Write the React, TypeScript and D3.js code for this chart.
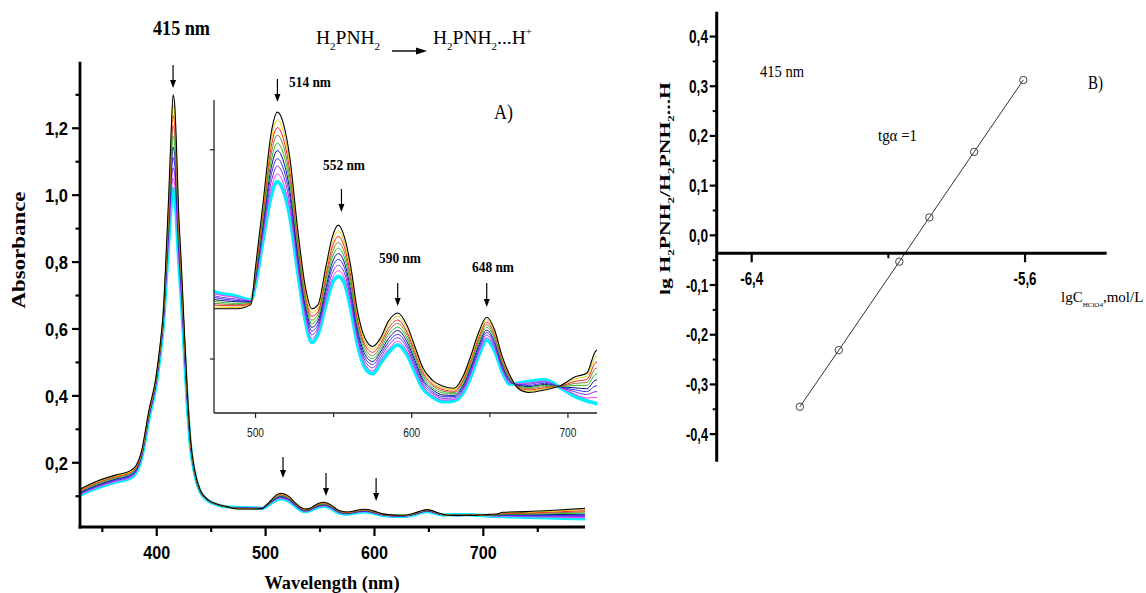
import React from 'react';
import * as d3 from 'd3';

// Wavelength grid (nm) shared by all absorption spectra
const WAVELENGTHS = [
  327, 345, 362, 375, 381, 386, 393, 399, 403, 406,
  409, 411, 413, 415, 416.5, 418, 420, 422.5, 425, 428,
  431, 435, 440, 447, 455, 464, 474, 488, 497, 500,
  505, 510, 514, 518, 522, 527, 532, 536, 540, 545,
  549, 553, 557, 561, 565, 570, 575, 580, 585, 591,
  597, 602, 607, 613, 620, 627, 633, 638, 643, 648,
  653, 658, 663, 668, 675, 685, 695, 705, 712, 718,
  740, 765, 795,
];

// Absorbance of the titration spectra, first (no acid) to last
const ABS_1 = [
  .1170, .1450, .1630, .1750, .1920, .2350, .3600, .4500, .5500, .6500,
  .850, 1.000, 1.170, 1.300, 1.270, 1.160, .960, .800, .620, .420,
  .270, .175, .118, .090, .077, .069, .0620, .0620, .0630, .0720,
  .0880, .1040, .1090, .1060, .0980, .0810, .0670, .0620, .0630, .0720,
  .0790, .0820, .0790, .0720, .0620, .0550, .0530, .0550, .0590, .0610,
  .0580, .0530, .0480, .0450, .0435, .0430, .0460, .0510, .0565, .0600,
  .0570, .0505, .0460, .0430, .0420, .0426, .0436, .0458, .0466, .0520,
  .0540, .0580, .0640,
];
const ABS_2 = [
  .1151, .1427, .1607, .1726, .1896, .2326, .3572, .4472, .5467, .6456,
  .840, .984, 1.147, 1.269, 1.240, 1.134, .943, .788, .612, .416,
  .268, .174, .1174, .0897, .0768, .0689, .0624, .0623, .0631, .0716,
  .0870, .1023, .1072, .1042, .0964, .0799, .0661, .0611, .0622, .0710,
  .0778, .0806, .0778, .0709, .0611, .0542, .0523, .0543, .0582, .0602,
  .0572, .0523, .0474, .0446, .0431, .0427, .0456, .0504, .0559, .0594,
  .0564, .0501, .0458, .0431, .0423, .0429, .0436, .0453, .0459, .0506,
  .0521, .0554, .0604,
];
const ABS_3 = [
  .1132, .1403, .1583, .1701, .1871, .2301, .3544, .4444, .5433, .6411,
  .830, .969, 1.123, 1.238, 1.210, 1.109, .927, .776, .604, .411,
  .266, .173, .1169, .0893, .0766, .0688, .0629, .0627, .0632, .0711,
  .0860, .1007, .1053, .1024, .0949, .0788, .0652, .0602, .0614, .0700,
  .0766, .0793, .0766, .0698, .0602, .0534, .0516, .0537, .0573, .0593,
  .0564, .0517, .0469, .0441, .0427, .0423, .0451, .0499, .0553, .0588,
  .0559, .0497, .0456, .0433, .0426, .0431, .0435, .0447, .0451, .0492,
  .0502, .0529, .0569,
];
const ABS_4 = [
  .1113, .1380, .1560, .1677, .1847, .2277, .3517, .4417, .5400, .6367,
  .820, .953, 1.100, 1.207, 1.180, 1.083, .910, .763, .597, .407,
  .263, .172, .1163, .0890, .0763, .0687, .0633, .0630, .0633, .0707,
  .0850, .0990, .1035, .1007, .0933, .0777, .0643, .0593, .0607, .0690,
  .0753, .0779, .0753, .0687, .0593, .0527, .0508, .0530, .0565, .0585,
  .0557, .0510, .0463, .0437, .0423, .0420, .0447, .0493, .0547, .0582,
  .0553, .0493, .0453, .0434, .0429, .0434, .0435, .0442, .0444, .0478,
  .0483, .0503, .0533,
];
const ABS_5 = [
  .1094, .1357, .1537, .1652, .1822, .2252, .3489, .4389, .5367, .6322,
  .810, .938, 1.077, 1.176, 1.150, 1.058, .893, .751, .589, .402,
  .261, .171, .1158, .0887, .0761, .0686, .0638, .0633, .0634, .0702,
  .0840, .0973, .1016, .0989, .0918, .0766, .0634, .0584, .0599, .0680,
  .0741, .0765, .0741, .0676, .0584, .0519, .0501, .0523, .0557, .0576,
  .0549, .0503, .0458, .0432, .0419, .0417, .0442, .0488, .0541, .0576,
  .0548, .0489, .0451, .0435, .0432, .0437, .0434, .0437, .0437, .0464,
  .0464, .0478, .0498,
];
const ABS_6 = [
  .1076, .1333, .1513, .1628, .1798, .2228, .3461, .4361, .5333, .6278,
  .800, .922, 1.053, 1.144, 1.120, 1.032, .877, .739, .581, .398,
  .259, .169, .1152, .0883, .0759, .0684, .0642, .0637, .0636, .0698,
  .0830, .0957, .0998, .0971, .0902, .0754, .0626, .0576, .0591, .0670,
  .0729, .0752, .0729, .0664, .0576, .0511, .0494, .0517, .0548, .0568,
  .0541, .0497, .0452, .0428, .0414, .0413, .0438, .0482, .0534, .0569,
  .0542, .0486, .0449, .0437, .0434, .0439, .0434, .0431, .0429, .0450,
  .0446, .0452, .0462,
];
const ABS_7 = [
  .1057, .1310, .1490, .1603, .1773, .2203, .3433, .4333, .5300, .6233,
  .790, .907, 1.030, 1.113, 1.090, 1.007, .860, .727, .573, .393,
  .257, .168, .1147, .0880, .0757, .0683, .0647, .0640, .0637, .0693,
  .0820, .0940, .0979, .0953, .0887, .0743, .0617, .0567, .0583, .0660,
  .0717, .0738, .0717, .0653, .0567, .0503, .0487, .0510, .0540, .0559,
  .0533, .0490, .0447, .0423, .0410, .0410, .0433, .0477, .0528, .0563,
  .0537, .0482, .0447, .0438, .0437, .0442, .0433, .0426, .0422, .0436,
  .0427, .0427, .0427,
];
const ABS_8 = [
  .1038, .1287, .1467, .1579, .1749, .2179, .3406, .4306, .5267, .6189,
  .780, .891, 1.007, 1.082, 1.060, .981, .843, .714, .566, .389,
  .254, .167, .1141, .0877, .0754, .0682, .0651, .0643, .0638, .0689,
  .0810, .0923, .0961, .0936, .0871, .0732, .0608, .0558, .0576, .0650,
  .0704, .0724, .0704, .0642, .0558, .0496, .0479, .0503, .0532, .0551,
  .0526, .0483, .0441, .0419, .0406, .0407, .0429, .0471, .0522, .0557,
  .0531, .0478, .0444, .0439, .0440, .0445, .0433, .0421, .0415, .0422,
  .0408, .0401, .0391,
];
const ABS_9 = [
  .1019, .1263, .1443, .1554, .1724, .2154, .3378, .4278, .5233, .6144,
  .770, .876, .983, 1.051, 1.030, .956, .827, .702, .558, .384,
  .252, .166, .1136, .0873, .0752, .0681, .0656, .0647, .0639, .0684,
  .0800, .0907, .0942, .0918, .0856, .0721, .0599, .0549, .0568, .0640,
  .0692, .0711, .0692, .0631, .0549, .0488, .0472, .0497, .0523, .0542,
  .0518, .0477, .0436, .0414, .0402, .0403, .0424, .0466, .0516, .0551,
  .0526, .0474, .0442, .0441, .0443, .0447, .0432, .0415, .0407, .0408,
  .0389, .0376, .0356,
];
const ABS_10 = [
  .1000, .1240, .1420, .1530, .1700, .2130, .3350, .4250, .5200, .6100,
  .760, .860, .960, 1.020, 1.000, .930, .810, .690, .550, .380,
  .250, .165, .113, .087, .075, .068, .0660, .0650, .0640, .0680,
  .0790, .0890, .0924, .0900, .0840, .0710, .0590, .0540, .0560, .0630,
  .0680, .0697, .0680, .0620, .0540, .0480, .0465, .0490, .0515, .0534,
  .0510, .0470, .0430, .0410, .0398, .0400, .0420, .0460, .0510, .0545,
  .0520, .0470, .0440, .0442, .0446, .0450, .0432, .0410, .0400, .0394,
  .0370, .0350, .0320,
];

const SPECTRA = [ABS_1, ABS_2, ABS_3, ABS_4, ABS_5, ABS_6, ABS_7, ABS_8, ABS_9, ABS_10];
const SPECTRUM_COLORS = [
  '#000000', '#e6d300', '#ff1a1a', '#8c7a3c', '#22c322',
  '#0a0a80', '#2e2eff', '#8a2be2', '#ff3cff', '#00efff',
];

// Tick values
const MAIN_Y_MAJOR = [0.2, 0.4, 0.6, 0.8, 1.0, 1.2];
const MAIN_Y_MINOR = [0.1, 0.3, 0.5, 0.7, 0.9, 1.1, 1.3];
const MAIN_X_MAJOR = [400, 500, 600, 700];
const MAIN_X_MINOR = [350, 450, 550, 650, 750];
const INSET_X_MAJOR = [500, 600, 700];
const INSET_X_MINOR = [550, 650];
const INSET_Y_TICKS = [0.05, 0.1];

// Peak markers (nm)
const MAIN_ARROWS = [415, 516, 555.5, 601.5];
const INSET_PEAKS = [
  { label: '514 nm', arrow: 514 },
  { label: '552 nm', arrow: 555 },
  { label: '590 nm', arrow: 591 },
  { label: '648 nm', arrow: 648 },
];

// Panel B: lg(H2PNH2 / H2PNH2...H) versus lg C(HClO4)
const LG_C_HCLO4 = [-6.259, -6.145, -5.968, -5.880, -5.749, -5.605];
const LG_RATIO = [-0.345, -0.231, -0.053, 0.036, 0.168, 0.3125];
const B_Y_MAJOR = [-0.4, -0.3, -0.2, -0.1, 0.0, 0.1, 0.2, 0.3, 0.4];
const B_Y_MINOR = [-0.35, -0.25, -0.15, -0.05, 0.05, 0.15, 0.25, 0.35];
const B_X_MAJOR = [-6.4, -5.6];
const B_X_MINOR = [-6.0];
const B_AXIS_CROSS = -0.036;

const SERIF = "'Liberation Serif', 'Times New Roman', serif";
const SANS = "'Liberation Sans Narrow', 'Liberation Sans', Arial, sans-serif";

const fmt = (v: number) => v.toFixed(1).replace('.', ',');

type Box = { left: number; right: number; top: number; bottom: number };
const MAIN: Box = { left: 80, right: 585, top: 61.7, bottom: 527 };
const INSET: Box = { left: 214, right: 597, top: 100, bottom: 413 };
const PB: Box = { left: 716.7, right: 1106.7, top: 11.7, bottom: 461.7 };

function Arrow({ x, y1, y2, w = 1.2 }: { x: number; y1: number; y2: number; w?: number }) {
  return (
    <g>
      <line x1={x} x2={x} y1={y1} y2={y2 - 6} stroke="#000" strokeWidth={w} />
      <polygon points={`${x - 3},${y2 - 8} ${x + 3},${y2 - 8} ${x},${y2}`} fill="#000" />
    </g>
  );
}

export default function App() {
  const xMain = d3.scaleLinear().domain([329.5, 793.4]).range([MAIN.left, MAIN.right]);
  const yMain = d3.scaleLinear().domain([0.008, 1.399]).range([MAIN.bottom, MAIN.top]);
  const xIn = d3.scaleLinear().domain([473.4, 718.6]).range([INSET.left, INSET.right]);
  const yIn = d3.scaleLinear().domain([0.0371, 0.1119]).range([INSET.bottom, INSET.top]);
  const xB = d3.scaleLinear().domain([-6.5024, -5.361]).range([PB.left, PB.right]);
  const yB = d3.scaleLinear().domain([-0.4555, 0.45]).range([PB.bottom, PB.top]);

  const mainLine = d3
    .line<number>()
    .x((_, i) => xMain(WAVELENGTHS[i]))
    .y((d) => yMain(d))
    .curve(d3.curveMonotoneX);
  const insetLine = d3
    .line<number>()
    .x((_, i) => xIn(WAVELENGTHS[i]))
    .y((d) => yIn(d))
    .curve(d3.curveMonotoneX)
    .defined((_, i) => WAVELENGTHS[i] >= 464 && WAVELENGTHS[i] <= 740);
  const bLine = d3
    .line<number>()
    .x((_, i) => xB(LG_C_HCLO4[i]))
    .y((d) => yB(d));

  const order = SPECTRA.map((_, i) => i).reverse();
  const widthOf = (i: number, thick: number) => (i === SPECTRA.length - 1 ? thick : i === 0 ? 1.1 : 1);

  const yAxisB = yB(B_AXIS_CROSS);

  return (
    <svg
      width={1146}
      height={593}
      viewBox="0 0 1146 593"
      style={{ position: 'absolute', left: 0, top: 0, background: '#fff' }}
    >
      <defs>
        <clipPath id="clip-main">
          <rect x={MAIN.left} y={MAIN.top} width={MAIN.right - MAIN.left} height={MAIN.bottom - MAIN.top} />
        </clipPath>
        <clipPath id="clip-inset">
          <rect x={INSET.left} y={INSET.top} width={INSET.right - INSET.left} height={INSET.bottom - INSET.top} />
        </clipPath>
      </defs>
      <rect x={0} y={0} width={1146} height={593} fill="#fff" />

      {/* ===== Panel A: full spectra ===== */}
      <g clipPath="url(#clip-main)">
        {order.map((i) => (
          <path
            key={`m${i}`}
            d={mainLine(SPECTRA[i]) || ''}
            fill="none"
            stroke={SPECTRUM_COLORS[i]}
            strokeWidth={widthOf(i, 3.4)}
            strokeLinejoin="round"
          />
        ))}
      </g>

      {/* axes */}
      <line x1={MAIN.left} x2={MAIN.left} y1={MAIN.top} y2={MAIN.bottom + 1.4} stroke="#000" strokeWidth={2.8} />
      <line x1={MAIN.left - 1.4} x2={MAIN.right} y1={MAIN.bottom} y2={MAIN.bottom} stroke="#000" strokeWidth={2.8} />
      {MAIN_Y_MAJOR.map((v) => (
        <g key={`ym${v}`}>
          <line x1={MAIN.left - 8} x2={MAIN.left} y1={yMain(v)} y2={yMain(v)} stroke="#000" strokeWidth={2.2} />
          <text
            x={68}
            y={yMain(v) + 7}
            textAnchor="end"
            fontFamily={SANS}
            fontWeight="bold"
            fontSize={19}
            textLength={23}
            lengthAdjust="spacingAndGlyphs"
          >
            {fmt(v)}
          </text>
        </g>
      ))}
      {MAIN_Y_MINOR.map((v) => (
        <line key={`yn${v}`} x1={MAIN.left - 4.5} x2={MAIN.left} y1={yMain(v)} y2={yMain(v)} stroke="#000" strokeWidth={2.2} />
      ))}
      {MAIN_X_MAJOR.map((v) => (
        <g key={`xm${v}`}>
          <line x1={xMain(v)} x2={xMain(v)} y1={MAIN.bottom} y2={MAIN.bottom + 9} stroke="#000" strokeWidth={2.2} />
          <text
            x={xMain(v)}
            y={559}
            textAnchor="middle"
            fontFamily={SANS}
            fontWeight="bold"
            fontSize={19}
            textLength={27}
            lengthAdjust="spacingAndGlyphs"
          >
            {v}
          </text>
        </g>
      ))}
      {MAIN_X_MINOR.map((v) => (
        <line key={`xn${v}`} x1={xMain(v)} x2={xMain(v)} y1={MAIN.bottom} y2={MAIN.bottom + 5} stroke="#000" strokeWidth={2.2} />
      ))}

      <text
        transform="translate(25,250) rotate(-90)"
        textAnchor="middle"
        fontFamily={SERIF}
        fontWeight="bold"
        fontSize={18}
        textLength={117}
        lengthAdjust="spacingAndGlyphs"
      >
        Absorbance
      </text>
      <text
        x={332}
        y={589}
        textAnchor="middle"
        fontFamily={SERIF}
        fontWeight="bold"
        fontSize={19}
        textLength={135}
        lengthAdjust="spacingAndGlyphs"
      >
        Wavelength (nm)
      </text>
      <text x={153} y={35} fontFamily={SERIF} fontWeight="bold" fontSize={20} textLength={57} lengthAdjust="spacingAndGlyphs">
        415 nm
      </text>

      {/* reaction scheme */}
      <text x={316} y={44} fontFamily={SERIF} fontSize={19.5}>
        H<tspan dy={6} fontSize={11}>2</tspan>
        <tspan dy={-6}>PNH</tspan>
        <tspan dy={6} fontSize={11}>2</tspan>
      </text>
      <line x1={392} x2={418} y1={51} y2={51} stroke="#000" strokeWidth={1.4} />
      <polygon points="416,47.5 427,51 416,54.5" fill="#000" />
      <text x={433} y={44} fontFamily={SERIF} fontSize={19.5}>
        H<tspan dy={6} fontSize={11}>2</tspan>
        <tspan dy={-6}>PNH</tspan>
        <tspan dy={6} fontSize={11}>2</tspan>
        <tspan dy={-6}>...H</tspan>
        <tspan dy={-9} fontSize={11}>+</tspan>
      </text>

      {/* peak arrows on the full spectra */}
      <Arrow x={xMain(MAIN_ARROWS[0])} y1={65} y2={88} />
      <Arrow x={xMain(MAIN_ARROWS[1])} y1={457} y2={478} />
      <Arrow x={xMain(MAIN_ARROWS[2])} y1={473} y2={496} />
      <Arrow x={xMain(MAIN_ARROWS[3])} y1={478} y2={501} />

      {/* ===== Inset: visible Q-bands ===== */}
      <g clipPath="url(#clip-inset)">
        {order.map((i) => (
          <path
            key={`i${i}`}
            d={insetLine(SPECTRA[i]) || ''}
            fill="none"
            stroke={SPECTRUM_COLORS[i]}
            strokeWidth={widthOf(i, 3.8)}
            strokeLinejoin="round"
          />
        ))}
      </g>
      <line x1={INSET.left} x2={INSET.left} y1={INSET.top} y2={INSET.bottom} stroke="#222" strokeWidth={1.3} />
      <line x1={INSET.left} x2={INSET.right} y1={INSET.bottom} y2={INSET.bottom} stroke="#222" strokeWidth={1.3} />
      {INSET_Y_TICKS.map((v) => (
        <line key={`iy${v}`} x1={INSET.left - 4} x2={INSET.left} y1={yIn(v)} y2={yIn(v)} stroke="#222" strokeWidth={1.2} />
      ))}
      {INSET_X_MAJOR.map((v) => (
        <g key={`ix${v}`}>
          <line x1={xIn(v)} x2={xIn(v)} y1={INSET.bottom} y2={INSET.bottom + 5} stroke="#222" strokeWidth={1.2} />
          <text
            x={xIn(v)}
            y={437}
            textAnchor="middle"
            fontFamily={SANS}
            fontSize={13}
            fill="#222"
            textLength={17}
            lengthAdjust="spacingAndGlyphs"
          >
            {v}
          </text>
        </g>
      ))}
      {INSET_X_MINOR.map((v) => (
        <line key={`ixn${v}`} x1={xIn(v)} x2={xIn(v)} y1={INSET.bottom} y2={INSET.bottom + 4} stroke="#222" strokeWidth={1.2} />
      ))}

      {/* inset peak labels */}
      {[
        { x: 289, y: 87, a1: 79, a2: 102 },
        { x: 323, y: 170, a1: 189, a2: 212 },
        { x: 379, y: 263, a1: 283, a2: 306 },
        { x: 472, y: 272, a1: 283, a2: 307 },
      ].map((p, k) => (
        <g key={`pk${k}`}>
          <text x={p.x} y={p.y} fontFamily={SERIF} fontWeight="bold" fontSize={14} textLength={42} lengthAdjust="spacingAndGlyphs">
            {INSET_PEAKS[k].label}
          </text>
          <Arrow x={xIn(INSET_PEAKS[k].arrow)} y1={p.a1} y2={p.a2} />
        </g>
      ))}
      <text x={494} y={119} fontFamily={SERIF} fontSize={20} textLength={19} lengthAdjust="spacingAndGlyphs">
        A)
      </text>

      {/* ===== Panel B ===== */}
      <path d={bLine(LG_RATIO) || ''} fill="none" stroke="#333" strokeWidth={1} />
      {LG_RATIO.map((v, i) => (
        <circle key={`bc${i}`} cx={xB(LG_C_HCLO4[i])} cy={yB(v)} r={3.7} fill="none" stroke="#444" strokeWidth={1} />
      ))}
      <line x1={PB.left} x2={PB.left} y1={PB.top} y2={PB.bottom} stroke="#000" strokeWidth={3} />
      <line x1={PB.left} x2={PB.right} y1={yAxisB} y2={yAxisB} stroke="#000" strokeWidth={3} />
      {B_Y_MAJOR.map((v) => (
        <g key={`by${v}`}>
          <line x1={PB.left - 7} x2={PB.left} y1={yB(v)} y2={yB(v)} stroke="#000" strokeWidth={2.2} />
          <text
            x={708}
            y={yB(v) + 6.5}
            textAnchor="end"
            fontFamily={SANS}
            fontWeight="bold"
            fontSize={18}
            textLength={v < 0 ? 22 : 19}
            lengthAdjust="spacingAndGlyphs"
          >
            {fmt(v)}
          </text>
        </g>
      ))}
      {B_Y_MINOR.map((v) => (
        <line key={`byn${v}`} x1={PB.left - 4} x2={PB.left} y1={yB(v)} y2={yB(v)} stroke="#000" strokeWidth={2} />
      ))}
      {B_X_MAJOR.map((v) => (
        <g key={`bx${v}`}>
          <line x1={xB(v)} x2={xB(v)} y1={yAxisB} y2={yAxisB + 9} stroke="#000" strokeWidth={2.2} />
          <text
            x={xB(v)}
            y={285}
            textAnchor="middle"
            fontFamily={SANS}
            fontWeight="bold"
            fontSize={18}
            textLength={23}
            lengthAdjust="spacingAndGlyphs"
          >
            {fmt(v)}
          </text>
        </g>
      ))}
      {B_X_MINOR.map((v) => (
        <line key={`bxn${v}`} x1={xB(v)} x2={xB(v)} y1={yAxisB} y2={yAxisB + 5} stroke="#000" strokeWidth={2} />
      ))}

      <text
        transform="translate(670,188.5) rotate(-90)"
        textAnchor="middle"
        fontFamily={SERIF}
        fontWeight="bold"
        fontSize={15}
        textLength={213}
        lengthAdjust="spacingAndGlyphs"
      >
        lg H<tspan dy={4} fontSize={9}>2</tspan>
        <tspan dy={-4}>PNH</tspan>
        <tspan dy={4} fontSize={9}>2</tspan>
        <tspan dy={-4}>/H</tspan>
        <tspan dy={4} fontSize={9}>2</tspan>
        <tspan dy={-4}>PNH</tspan>
        <tspan dy={4} fontSize={9}>2</tspan>
        <tspan dy={-4}>...H</tspan>
      </text>

      <text x={760} y={77} fontFamily={SERIF} fontSize={17} textLength={44} lengthAdjust="spacingAndGlyphs">
        415 nm
      </text>
      <text x={878} y={141} fontFamily={SERIF} fontSize={17} textLength={39} lengthAdjust="spacingAndGlyphs">
        tgα =1
      </text>
      <text x={1088} y={89} fontFamily={SERIF} fontSize={18} textLength={15} lengthAdjust="spacingAndGlyphs">
        B)
      </text>
      <text x={1061} y={302} fontFamily={SERIF} fontSize={15}>
        lgC<tspan dy={5} fontSize={7}>HClO4</tspan>
        <tspan dy={-5}>,mol/L</tspan>
      </text>
    </svg>
  );
}
